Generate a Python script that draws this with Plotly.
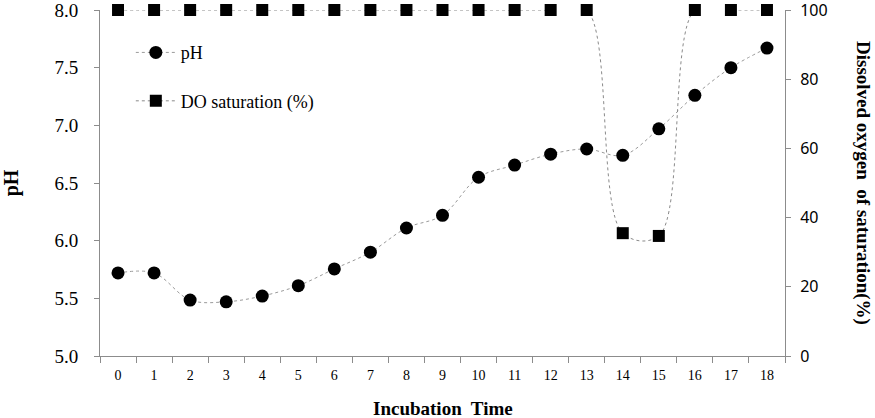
import plotly.graph_objects as go

time = list(range(19))
ph = [5.72, 5.72, 5.485, 5.47, 5.52, 5.61, 5.755, 5.90, 6.11, 6.22, 6.55, 6.655, 6.75, 6.795, 6.74, 6.97, 7.26, 7.50, 7.67]
do_sat = [100, 100, 100, 100, 100, 100, 100, 100, 100, 100, 100, 100, 100, 100, 35.5, 34.7, 100, 100, 100]

serif = "Liberation Serif, Times New Roman, serif"
sans = "Noto Sans, Open Sans, sans-serif"
axis_col = "#8c8c8c"

fig = go.Figure()
fig.add_trace(go.Scatter(
    x=time, y=ph, name="pH", mode="lines+markers",
    line=dict(color="#9a9a9a", width=1, dash="dot", shape="spline", smoothing=1),
    marker=dict(symbol="circle", size=13, color="black"),
    cliponaxis=False, legendgroup="a"))
fig.add_trace(go.Scatter(
    x=time, y=do_sat, name="DO saturation (%)", mode="lines+markers", yaxis="y2",
    line=dict(color="#8a8a8a", width=1, dash="dot", shape="spline", smoothing=1),
    marker=dict(symbol="square", size=12, color="black"),
    cliponaxis=False, legendgroup="b"))

fig.update_layout(
    width=875, height=418,
    margin=dict(l=100, r=90, t=10, b=62, autoexpand=False),
    paper_bgcolor="white", plot_bgcolor="white",
    showlegend=True,
    legend=dict(x=0.045, y=0.93, xanchor="left", yanchor="top",
                font=dict(family=serif, size=18, color="black"),
                itemwidth=40,
                tracegroupgap=22, bgcolor="rgba(0,0,0,0)"),
    xaxis=dict(range=[-0.5, 18.5], tickvals=time, ticktext=[str(t) for t in time],
               ticks="", showgrid=False, zeroline=False, automargin=False,
               showline=True, linecolor=axis_col, linewidth=1,
               tickfont=dict(family=serif, size=14, color="black"),
               minor=dict(tickvals=[i - 0.5 for i in range(20)], ticks="outside",
                          ticklen=6, tickcolor=axis_col, showgrid=False),
               ticklabelstandoff=6),
    yaxis=dict(range=[5.0, 8.0], tickvals=[5.0, 5.5, 6.0, 6.5, 7.0, 7.5, 8.0],
               ticktext=["5.0", "5.5", "6.0", "6.5", "7.0", "7.5", "8.0"],
               ticks="outside", ticklen=5, tickcolor=axis_col,
               showgrid=False, zeroline=False, automargin=False,
               showline=True, linecolor=axis_col, linewidth=1,
               tickfont=dict(family=serif, size=19, color="black"),
               ticklabelstandoff=12, ticklabeloverflow="allow",
               title=dict(text="<b>pH</b>", font=dict(family=serif, size=20, color="black"), standoff=36)),
    yaxis2=dict(range=[0, 100], overlaying="y", side="right",
                tickvals=[0, 20, 40, 60, 80, 100],
                ticks="outside", ticklen=5, tickcolor=axis_col,
                showgrid=False, zeroline=False, automargin=False,
                showline=True, linecolor=axis_col, linewidth=1,
                tickfont=dict(family=sans, size=16, color="black"),
                ticklabelstandoff=6, ticklabeloverflow="allow"),
)

fig.add_annotation(text="<b>Incubation  Time</b>", xref="paper", yref="paper",
                   x=0.5, y=0, yshift=-52, xanchor="center", yanchor="middle",
                   showarrow=False, font=dict(family=serif, size=19, color="black"))
fig.add_annotation(text="<b>Dissolved oxygen  of saturation(%)</b>", xref="paper", yref="paper",
                   x=1, xshift=78, y=0.5, xanchor="center", yanchor="middle", textangle=90,
                   showarrow=False, font=dict(family=serif, size=19, color="black"))

fig.write_html("out.html")
